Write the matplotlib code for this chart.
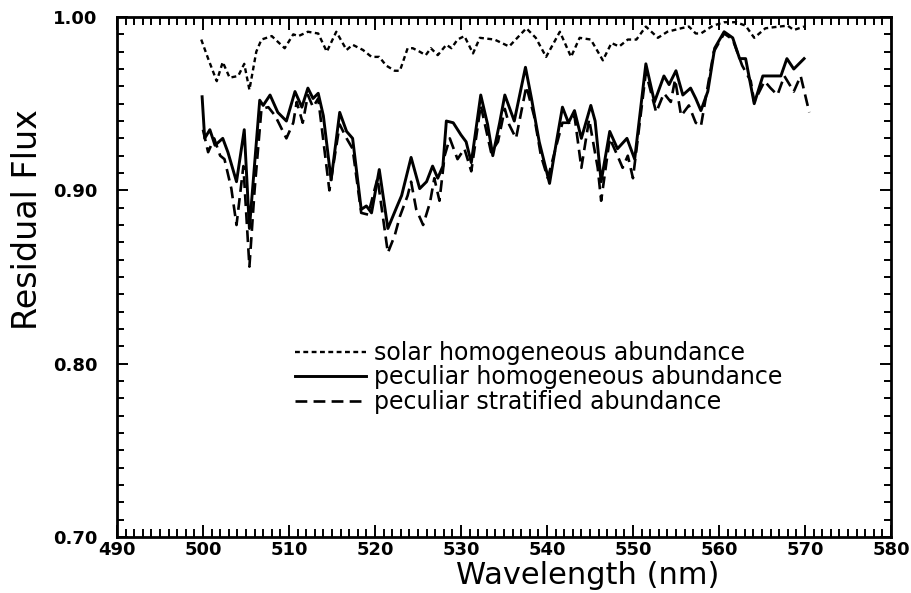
import matplotlib
matplotlib.use('Agg')
import matplotlib.pyplot as plt
from matplotlib.ticker import MultipleLocator, FormatStrFormatter

# solar homogeneous abundance (short dashes)
solar_wl = [499.8, 500.6, 501.6, 502.3, 503.1, 504.1, 504.8, 505.4, 506.2, 506.8,
            508.0, 509.5, 510.5, 511.1, 512.2, 513.4, 514.4, 515.5, 516.7, 517.4,
            518.6, 519.6, 520.5, 521.3, 522.3, 522.9, 523.8, 524.4, 525.2, 525.9,
            526.5, 527.3, 528.3, 528.9, 529.6, 530.4, 531.4, 532.2, 533.9, 535.6,
            537.6, 538.7, 539.9, 541.5, 542.8, 543.8, 545.1, 546.5, 547.5, 548.4,
            549.4, 550.4, 551.5, 552.9, 554.0, 555.6, 556.5, 557.3, 557.9, 559.3,
            560.6, 562.0, 563.1, 564.1, 565.4, 567.0, 568.0, 568.7, 569.9]
solar_flux = [0.987, 0.976, 0.963, 0.974, 0.965, 0.966, 0.973, 0.958, 0.980, 0.987,
              0.989, 0.982, 0.990, 0.989, 0.9915, 0.9905, 0.980, 0.9915, 0.981, 0.984,
              0.981, 0.977, 0.977, 0.972, 0.969, 0.969, 0.982, 0.982, 0.980, 0.978,
              0.982, 0.978, 0.984, 0.982, 0.987, 0.989, 0.979, 0.988, 0.987, 0.983,
              0.9935, 0.988, 0.977, 0.9915, 0.977, 0.988, 0.987, 0.975, 0.985, 0.983,
              0.987, 0.987, 0.9945, 0.988, 0.9915, 0.9935, 0.9945, 0.9905, 0.9905, 0.995,
              0.997, 0.997, 0.995, 0.988, 0.9935, 0.9945, 0.995, 0.9925, 0.9945]

# peculiar homogeneous abundance (solid)
hom_wl = [499.9, 500.2, 500.8, 501.4, 502.3, 502.9, 503.9, 504.8, 505.4, 506.6,
          507.0, 507.8, 508.7, 509.7, 510.7, 511.5, 512.2, 512.8, 513.4, 514.0,
          514.9, 515.9, 516.7, 517.4, 518.4, 519.0, 519.6, 520.5, 521.5, 522.5,
          523.1, 524.2, 525.2, 526.0, 526.7, 527.3, 527.9, 528.3, 529.1, 530.0,
          530.6, 531.2, 532.3, 533.1, 533.7, 534.5, 535.1, 536.2, 537.5, 538.2,
          539.1, 540.3, 541.1, 541.8, 542.5, 543.2, 544.0, 545.1, 545.6, 546.3,
          547.3, 548.2, 549.3, 550.2, 551.5, 552.5, 553.6, 554.2, 555.0, 555.8,
          556.7, 557.3, 557.9, 558.7, 559.5, 560.6, 561.6, 562.4, 563.1, 564.1,
          565.1, 565.6, 566.4, 567.2, 567.9, 568.7, 569.9]
hom_flux = [0.954, 0.930, 0.935, 0.926, 0.930, 0.922, 0.905, 0.935, 0.878, 0.952,
            0.949, 0.955, 0.945, 0.940, 0.957, 0.948, 0.959, 0.953, 0.956, 0.943,
            0.906, 0.945, 0.934, 0.930, 0.889, 0.891, 0.887, 0.912, 0.878, 0.890,
            0.897, 0.919, 0.901, 0.905, 0.914, 0.907, 0.914, 0.940, 0.939, 0.932,
            0.928, 0.916, 0.955, 0.938, 0.920, 0.939, 0.955, 0.940, 0.971, 0.953,
            0.928, 0.904, 0.928, 0.948, 0.939, 0.946, 0.930, 0.949, 0.940, 0.905,
            0.934, 0.924, 0.930, 0.918, 0.973, 0.951, 0.966, 0.961, 0.969, 0.955,
            0.959, 0.953, 0.946, 0.957, 0.982, 0.9915, 0.988, 0.976, 0.976, 0.950,
            0.966, 0.966, 0.966, 0.966, 0.976, 0.970, 0.976]

# peculiar stratified abundance (long dashes)
strat_wl = [500.0, 500.6, 501.3, 502.0, 502.5, 503.3, 503.9, 504.7, 505.4, 506.0,
            506.8, 507.6, 508.4, 508.9, 509.7, 510.5, 510.9, 511.6, 512.2, 512.8,
            513.4, 514.7, 515.9, 516.7, 517.4, 518.4, 519.2, 520.3, 521.5, 522.3,
            522.9, 523.8, 524.2, 524.8, 525.6, 526.4, 526.9, 527.5, 528.1, 528.7,
            529.6, 530.4, 531.2, 532.3, 533.5, 534.3, 535.1, 535.6, 536.4, 537.0,
            537.6, 538.5, 539.3, 540.1, 541.1, 541.8, 542.6, 543.2, 544.0, 544.9,
            545.9, 546.3, 547.3, 548.2, 548.8, 549.4, 550.0, 551.5, 552.7, 553.6,
            554.4, 554.9, 555.6, 556.5, 557.3, 557.9, 558.8, 559.4, 560.6, 561.6,
            562.7, 563.7, 564.1, 565.3, 566.0, 566.8, 567.6, 568.7, 569.5, 570.5]
strat_flux = [0.935, 0.922, 0.930, 0.920, 0.918, 0.901, 0.880, 0.914, 0.856, 0.900,
              0.947, 0.948, 0.943, 0.938, 0.930, 0.939, 0.951, 0.939, 0.955, 0.948,
              0.953, 0.900, 0.938, 0.930, 0.924, 0.887, 0.886, 0.907, 0.864, 0.874,
              0.885, 0.897, 0.905, 0.889, 0.880, 0.893, 0.907, 0.894, 0.920, 0.930,
              0.918, 0.924, 0.911, 0.949, 0.922, 0.928, 0.947, 0.938, 0.930, 0.945,
              0.960, 0.943, 0.920, 0.907, 0.926, 0.939, 0.939, 0.943, 0.913, 0.941,
              0.913, 0.894, 0.930, 0.920, 0.913, 0.920, 0.907, 0.968, 0.945, 0.956,
              0.951, 0.964, 0.943, 0.949, 0.939, 0.937, 0.963, 0.980, 0.9905, 0.987,
              0.972, 0.963, 0.951, 0.963, 0.959, 0.955, 0.966, 0.957, 0.966, 0.945]

labels = ['solar homogeneous abundance',
          'peculiar homogeneous abundance',
          'peculiar stratified abundance']

plt.rcParams['lines.scale_dashes'] = False

fig = plt.figure(figsize=(9.11, 5.93), dpi=100)
ax = fig.add_axes([0.1284, 0.0944, 0.8496, 0.8769])

ax.plot(solar_wl, solar_flux, color='black', lw=1.7, dashes=(3.5, 2.5), label=labels[0])
ax.plot(hom_wl, hom_flux, color='black', lw=2.1, label=labels[1])
ax.plot(strat_wl, strat_flux, color='black', lw=1.9, dashes=(8.5, 4.5), label=labels[2])

ax.set_xlim(490, 580)
ax.set_ylim(0.70, 1.00)
ax.xaxis.set_major_locator(MultipleLocator(10))
ax.xaxis.set_minor_locator(MultipleLocator(1))
ax.yaxis.set_major_locator(MultipleLocator(0.10))
ax.yaxis.set_minor_locator(MultipleLocator(0.01))
ax.yaxis.set_major_formatter(FormatStrFormatter('%.2f'))

ax.tick_params(axis='both', which='both', direction='in', top=True, right=True, width=1.4)
ax.tick_params(axis='x', which='major', length=9, pad=3)
ax.tick_params(axis='x', which='minor', length=6)
ax.tick_params(axis='y', which='major', length=8, pad=14)
ax.tick_params(axis='y', which='minor', length=5)
for lab in ax.get_xticklabels() + ax.get_yticklabels():
    lab.set_fontsize(13)
    lab.set_fontweight('bold')
for sp in ax.spines.values():
    sp.set_linewidth(2)

ax.set_xlabel('Wavelength (nm)', fontsize=22, va='center')
ax.set_ylabel('Residual Flux', fontsize=24, va='center')
ax.xaxis.set_label_coords(0.608, -0.074)
ax.yaxis.set_label_coords(-0.115, 0.61)

ax.legend(loc='upper left', bbox_to_anchor=(0.23, 0.377), frameon=False,
          fontsize=17, handlelength=3.0, handletextpad=0.35, labelspacing=0.02,
          borderpad=0, borderaxespad=0)

fig.savefig('out.png', dpi=100)
